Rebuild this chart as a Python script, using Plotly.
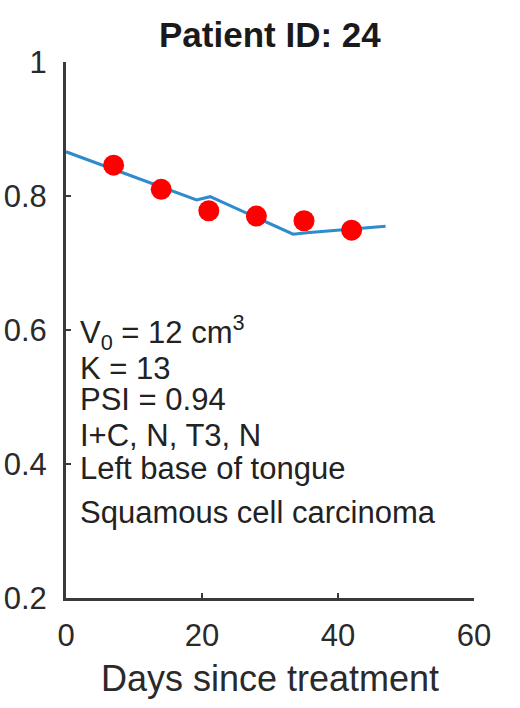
import plotly.graph_objects as go

# Data
obs_days = [7, 14, 21, 28, 35, 42]
obs_vals = [0.846, 0.810, 0.778, 0.770, 0.763, 0.749]
fit_days = [0, 19.2, 21.2, 33.4, 35.4, 47]
fit_vals = [0.866, 0.794, 0.799, 0.743, 0.745, 0.755]
x_ticks = [0, 20, 40, 60]
y_ticks = [0.2, 0.4, 0.6, 0.8, 1.0]
y_tick_labels = ["0.2", "0.4", "0.6", "0.8", "1"]
info_lines = ["V<sub>0</sub> = 12 cm<sup>3</sup>", "K = 13", "PSI = 0.94",
              "I+C, N, T3, N", "Left base of tongue", "Squamous cell carcinoma"]
info_y = [0.597, 0.543, 0.496, 0.443, 0.394, 0.328]

FONT = "Liberation Sans, Arial, Helvetica, sans-serif"
AX = "#3a3a3a"

fig = go.Figure()
fig.add_trace(go.Scatter(x=fit_days, y=fit_vals, mode="lines",
                         line=dict(color="#2f8bcc", width=3), showlegend=False))
fig.add_trace(go.Scatter(x=obs_days, y=obs_vals, mode="markers",
                         marker=dict(color="#ff0000", size=21, line=dict(width=0)),
                         showlegend=False))

for t, yv in zip(info_lines, info_y):
    fig.add_annotation(x=0, y=yv, xref="x", yref="y", text=t, showarrow=False,
                       xanchor="left", yanchor="middle", xshift=12,
                       font=dict(family=FONT, size=31, color="#222222"))

fig.update_layout(
    width=520, height=708,
    margin=dict(l=66, r=46, t=62, b=110, autoexpand=False),
    paper_bgcolor="white", plot_bgcolor="white",
    title=dict(text="<b>Patient ID: 24</b>", x=0.519, xanchor="center", y=0.951, yanchor="middle",
               font=dict(family=FONT, size=35, color="#1a1a1a")),
    font=dict(family=FONT, size=31, color="#2a2a2a"),
)
fig.update_xaxes(range=[0, 60], tickvals=x_ticks, showgrid=False, zeroline=False,
                 automargin=False,
                 showline=True, linecolor=AX, linewidth=3, ticks="inside", ticklen=5,
                 tickwidth=2, tickcolor=AX, ticklabelstandoff=8,
                 title=dict(text="Days since treatment", standoff=14,
                            font=dict(family=FONT, size=36)))
fig.update_yaxes(range=[0.2, 1.0], tickvals=y_ticks, ticktext=y_tick_labels,
                 showgrid=False, zeroline=False, automargin=False,
                 showline=True, linecolor=AX, linewidth=3, ticks="inside", ticklen=5,
                 tickwidth=2, tickcolor=AX, ticklabelstandoff=10)

fig.write_html("out.html")
